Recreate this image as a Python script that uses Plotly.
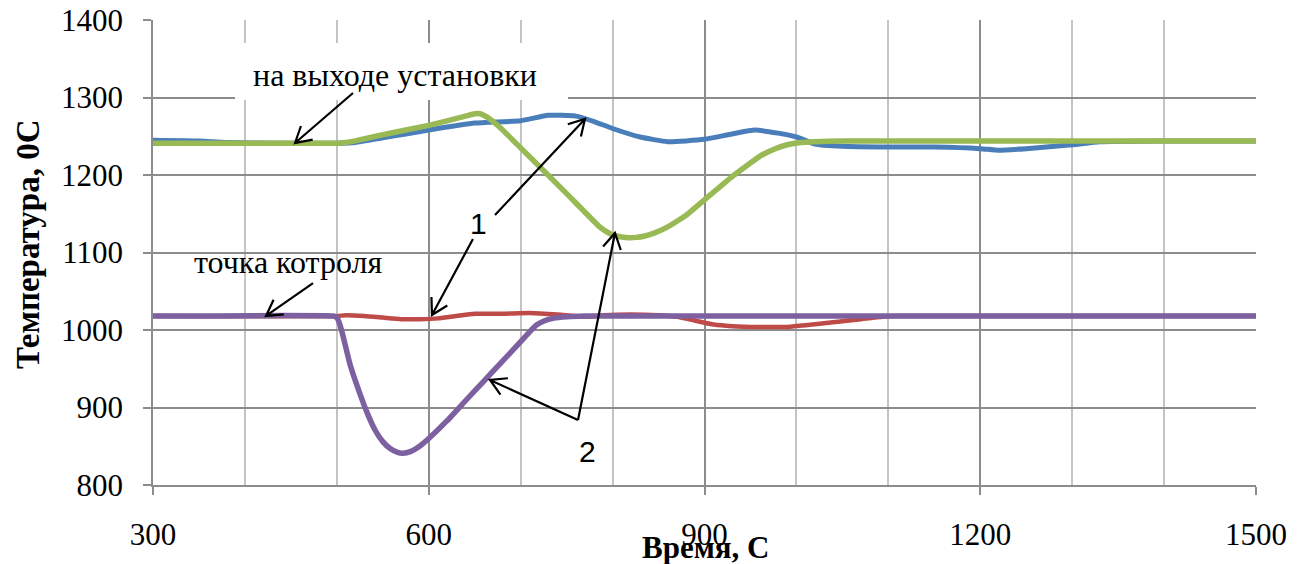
import math
import plotly.graph_objects as go

# ---------------- data ----------------
blue_x = [300, 350, 380, 450, 500, 520, 550, 575, 600, 650, 700, 730, 760, 780, 800, 830, 860, 900,
          930, 955, 980, 1000, 1020, 1050, 1100, 1150, 1200, 1220, 1250, 1300, 1330, 1400, 1500]
blue_y = [1245, 1244, 1242, 1241, 1241, 1242, 1248, 1253, 1258, 1267, 1270, 1277, 1276, 1269, 1260,
          1249, 1243, 1246, 1253, 1258, 1254, 1249, 1240, 1237, 1236, 1236, 1234, 1232, 1234, 1239,
          1243, 1244, 1244]

green_x = [300, 400, 500, 507, 520, 550, 600, 640, 650, 656, 663, 677, 700, 750, 786, 792, 798, 804,
           810, 818, 826, 834, 845, 860, 880, 900, 930, 960, 975, 990, 1005, 1020, 1050, 1500]
green_y = [1241, 1241, 1241, 1241.5, 1244, 1252, 1264, 1276, 1279, 1279, 1275, 1262, 1235, 1176,
           1133, 1128, 1124, 1121.5, 1120, 1119, 1119.5, 1121, 1125, 1133, 1148, 1168, 1198, 1224,
           1233, 1239, 1242, 1243, 1244, 1244]

red_x = [300, 500, 510, 530, 550, 570, 590, 610, 630, 650, 680, 710, 740, 770, 790, 820, 850, 870,
         890, 910, 930, 960, 990, 1010, 1040, 1070, 1094, 1110, 1500]
red_y = [1018, 1018, 1019, 1018, 1016, 1014, 1014, 1015, 1018, 1021, 1021, 1022, 1020, 1017, 1019,
         1020, 1019, 1017, 1012, 1007, 1005, 1004, 1004, 1006, 1010, 1014, 1017, 1018, 1018]

purple_x = [300, 496, 500, 503, 507, 514, 520, 533, 542, 550, 558, 566, 572, 580, 590, 600, 620, 641,
            660, 678, 700, 710, 718, 726, 735, 750, 770, 1500]
purple_y = [1018, 1018, 1016, 1008, 991, 957, 935, 893, 870, 856, 847, 842, 841, 843, 850, 860, 883,
            910, 934, 957, 985, 998, 1007, 1012, 1015, 1017, 1018, 1018]

x_ticks = [300, 600, 900, 1200, 1500]
y_ticks = [800, 900, 1000, 1100, 1200, 1300, 1400]

x_title = "Время, С"
y_title = "Температура, 0С"

labels = [
    ("на выходе установки", 563, 1329),
    ("точка котроля", 447, 1088),
]
numbers = [("1", 653.6, 1138), ("2", 773.2, 842.6)]

# arrows: (tail_x, tail_y, tip_x, tip_y)
arrows = [
    (517.6, 1305.8, 454.5, 1241.3),
    (474.1, 1060.6, 422.9, 1018.1),
    (672.1, 1148.4, 770.0, 1272.3),
    (648.1, 1117.4, 603.5, 1019.4),
    (762.4, 883.9, 666.6, 935.5),
    (762.4, 883.9, 802.6, 1125.2),
]

# ---------------- layout geometry (window pixels; page body has 8px margin) ----------------
OFF = 8
W, H = 1306 - OFF, 564 - OFF
PL, PT, PR, PB = 153, 20, 1256, 485          # plot area in window pixels
ML, MT = PL - OFF, PT - OFF
MR, MB = W - (PR - OFF), H - (PB - OFF)
PW, PH = PR - PL, PB - PT
X0, X1, Y0, Y1 = 300, 1500, 800, 1400


def to_px(x, y):
    return PL + (x - X0) / (X1 - X0) * PW, PT + (Y1 - y) / (Y1 - Y0) * PH


def to_data(px, py):
    return X0 + (px - PL) / PW * (X1 - X0), Y1 - (py - PT) / PH * (Y1 - Y0)


fig = go.Figure()
for xs, ys, col, w, sm in [
    (blue_x, blue_y, "#4A7EBB", 5, 0.5),
    (red_x, red_y, "#BE4B48", 4.5, 0.5),
    (green_x, green_y, "#98B954", 5.5, 0.3),
    (purple_x, purple_y, "#7D60A0", 5.5, 0.3),
]:
    fig.add_trace(go.Scatter(x=xs, y=ys, mode="lines",
                             line=dict(color=col, width=w, shape="spline", smoothing=sm),
                             showlegend=False, hoverinfo="skip"))

serif = "Liberation Serif, Times New Roman, serif"
grid_dark = "#8C8C8C"
grid_light = "#C4C4C4"

shapes = []
# white box behind the top label
bx0, by0 = to_data(235, 43)
bx1, by1 = to_data(568, 100)
shapes.append(dict(type="rect", xref="x", yref="y", x0=bx0, y0=by0, x1=bx1, y1=by1,
                   fillcolor="white", line=dict(width=0), layer="between"))

HEAD, ANG = 18, math.radians(30)
for tx, ty, hx, hy in arrows:
    tpx, tpy = to_px(tx, ty)
    hpx, hpy = to_px(hx, hy)
    a = math.atan2(tpy - hpy, tpx - hpx)
    w1 = to_data(hpx + HEAD * math.cos(a + ANG), hpy + HEAD * math.sin(a + ANG))
    w2 = to_data(hpx + HEAD * math.cos(a - ANG), hpy + HEAD * math.sin(a - ANG))
    path = (f"M {tx},{ty} L {hx},{hy} M {w1[0]},{w1[1]} L {hx},{hy} L {w2[0]},{w2[1]}")
    shapes.append(dict(type="path", xref="x", yref="y", path=path,
                       line=dict(color="black", width=2.2), layer="above"))

annotations = []
for txt, x, y in labels:
    annotations.append(dict(text=txt, x=x, y=y, xref="x", yref="y", showarrow=False,
                            xanchor="center", yanchor="middle",
                            font=dict(family=serif, size=32, color="black")))
for txt, x, y in numbers:
    annotations.append(dict(text=txt, x=x, y=y, xref="x", yref="y", showarrow=False,
                            xanchor="center", yanchor="middle",
                            font=dict(family="Liberation Sans, Arial, sans-serif", size=30,
                                      color="black")))
annotations.append(dict(text=f"<b>{x_title}</b>", xref="paper", yref="paper",
                        x=(705 - PL) / PW, y=(PB - 547) / PH, showarrow=False,
                        xanchor="center", yanchor="middle",
                        font=dict(family=serif, size=31, color="black")))
annotations.append(dict(text=f"<b>{y_title}</b>", xref="paper", yref="paper",
                        x=(28 - PL) / PW, y=(PB - 244) / PH, showarrow=False,
                        xanchor="center", yanchor="middle", textangle=-90,
                        font=dict(family=serif, size=33, color="black")))

fig.update_layout(
    width=W, height=H,
    margin=dict(l=ML, r=MR, t=MT, b=MB, autoexpand=False),
    paper_bgcolor="white", plot_bgcolor="white",
    shapes=shapes, annotations=annotations,
    xaxis=dict(range=[X0, X1], tickvals=x_ticks, ticktext=[str(v) for v in x_ticks],
               showgrid=True, gridcolor=grid_dark, gridwidth=1.5,
               minor=dict(dtick=100, tick0=300, showgrid=True, gridcolor=grid_light,
                          gridwidth=1.5, ticks=""),
               showline=True, linecolor=grid_dark, linewidth=1.5,
               ticks="outside", ticklen=8, tickcolor=grid_dark, tickwidth=1.5,
               ticklabelstandoff=13, ticklabeloverflow="allow",
               tickfont=dict(family=serif, size=31, color="black"),
               zeroline=False, fixedrange=True),
    yaxis=dict(range=[Y0, Y1], tickvals=y_ticks, ticktext=[str(v) for v in y_ticks],
               showgrid=True, gridcolor=grid_dark, gridwidth=1.5,
               showline=True, linecolor=grid_dark, linewidth=1.5,
               ticks="outside", ticklen=8, tickcolor=grid_dark, tickwidth=1.5,
               ticklabelstandoff=14, ticklabeloverflow="allow",
               tickfont=dict(family=serif, size=31, color="black"),
               zeroline=False, fixedrange=True),
)

fig.write_html("out.html")
